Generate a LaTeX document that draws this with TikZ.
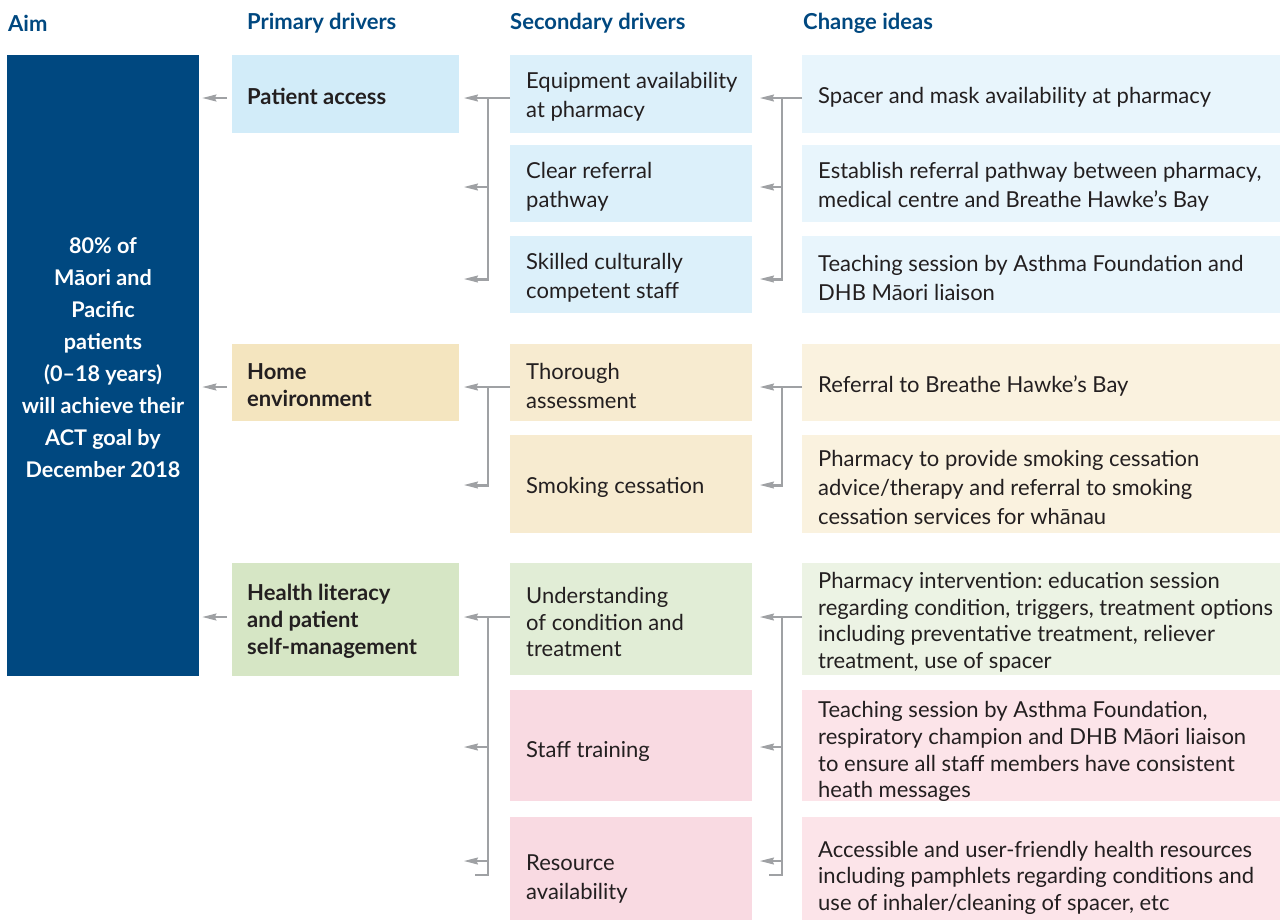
\documentclass[tikz,border=0pt]{standalone}
\usepackage{fontspec}
\setmainfont{Lato}
\usetikzlibrary{arrows.meta}
\frenchspacing

\definecolor{navy}{HTML}{004880}
\definecolor{ink}{HTML}{231F20}
\definecolor{wire}{HTML}{9FA1A4}
\definecolor{blueA}{HTML}{D2ECF9}
\definecolor{blueB}{HTML}{DCF0FA}
\definecolor{blueC}{HTML}{E8F5FC}
\definecolor{creamA}{HTML}{F4E5BF}
\definecolor{creamB}{HTML}{F7EBD0}
\definecolor{creamC}{HTML}{FAF2DF}
\definecolor{greenA}{HTML}{D6E6C5}
\definecolor{greenB}{HTML}{E1EDD6}
\definecolor{greenC}{HTML}{ECF3E4}
\definecolor{pinkB}{HTML}{F9DAE2}
\definecolor{pinkC}{HTML}{FCE4E9}

\tikzset{
  panel/.style={anchor=north west, inner sep=0pt, draw=none},
  head/.style={anchor=west, inner sep=0pt, text=navy, font=\fontsize{22}{26}\selectfont\bfseries},
  bodytext/.style={anchor=west, inner sep=0pt, align=left, text=ink, yshift=-3pt},
  prim/.style={bodytext, yshift=1pt, font=\fontsize{22}{27}\selectfont\bfseries},
  sectwo/.style={bodytext, font=\fontsize{22}{29}\selectfont},
  secthree/.style={bodytext, font=\fontsize{22}{26.6}\selectfont},
  wireline/.style={draw=wire, line width=1.3pt},
  feed/.style={wireline, -{Stealth[length=14pt, width=7pt, inset=1.5pt]}},
}

\begin{document}
\begin{tikzpicture}[x=1pt, y=-1pt]
\useasboundingbox (0,0) rectangle (1282,922);

% column headings
\node[head] (hAim)  at (8,23)   {Aim};
\node[head] (hPrim) at (247,23) {Primary drivers};
\node[head] (hSec)  at (510,23) {Secondary drivers};
\node[head] (hIdea) at (803,23) {Change ideas};

% aim
\node[panel, fill=navy, minimum width=192pt, minimum height=621pt] (aim) at (7,55) {};
\node[inner sep=0pt, align=center, text=white, font=\fontsize{21.6}{32}\selectfont\bfseries] (aimtext) at (103,358)
  {80\% of\\Māori and\\Pacific\\patients\\(0–18 years)\\will achieve their\\ACT goal by\\December 2018};

% primary drivers
\node[panel, fill=blueA,  minimum width=227pt, minimum height=78pt]  (p1) at (232,55)  {};
\node[panel, fill=creamA, minimum width=227pt, minimum height=77pt]  (p2) at (232,344) {};
\node[panel, fill=greenA, minimum width=227pt, minimum height=113pt] (p3) at (232,563) {};
\node[prim] (p1t) at ([xshift=15pt]p1.west) {Patient access};
\node[prim] (p2t) at ([xshift=15pt]p2.west) {Home\\environment};
\node[prim] (p3t) at ([xshift=15pt]p3.west) {Health literacy\\and patient\\self-management};

% secondary drivers
\node[panel, fill=blueB,  minimum width=242pt, minimum height=78pt]  (s1) at (510,55)  {};
\node[panel, fill=blueB,  minimum width=242pt, minimum height=77pt]  (s2) at (510,145) {};
\node[panel, fill=blueB,  minimum width=242pt, minimum height=77pt]  (s3) at (510,236) {};
\node[panel, fill=creamB, minimum width=242pt, minimum height=77pt]  (s4) at (510,344) {};
\node[panel, fill=creamB, minimum width=242pt, minimum height=98pt]  (s5) at (510,435) {};
\node[panel, fill=greenB, minimum width=242pt, minimum height=112pt] (s6) at (510,563) {};
\node[panel, fill=pinkB,  minimum width=242pt, minimum height=111pt] (s7) at (510,690) {};
\node[panel, fill=pinkB,  minimum width=242pt, minimum height=103pt] (s8) at (510,817) {};
\node[sectwo]   (s1t) at ([xshift=16pt]s1.west) {Equipment availability\\at pharmacy};
\node[sectwo]   (s2t) at ([xshift=16pt]s2.west) {Clear referral\\pathway};
\node[sectwo]   (s3t) at ([xshift=16pt]s3.west) {Skilled culturally\\competent staff};
\node[sectwo]   (s4t) at ([xshift=16pt]s4.west) {Thorough\\assessment};
\node[sectwo]   (s5t) at ([xshift=16pt]s5.west) {Smoking cessation};
\node[secthree] (s6t) at ([xshift=16pt]s6.west) {Understanding\\of condition and\\treatment};
\node[sectwo, yshift=-3pt] (s7t) at ([xshift=16pt]s7.west) {Staff training};
\node[sectwo, yshift=-7pt] (s8t) at ([xshift=16pt]s8.west) {Resource\\availability};

% change ideas
\node[panel, fill=blueC,  minimum width=478pt, minimum height=78pt]  (c1) at (802,55)  {};
\node[panel, fill=blueC,  minimum width=478pt, minimum height=77pt]  (c2) at (802,145) {};
\node[panel, fill=blueC,  minimum width=478pt, minimum height=77pt]  (c3) at (802,236) {};
\node[panel, fill=creamC, minimum width=478pt, minimum height=77pt]  (c4) at (802,344) {};
\node[panel, fill=creamC, minimum width=478pt, minimum height=98pt]  (c5) at (802,435) {};
\node[panel, fill=greenC, minimum width=478pt, minimum height=112pt] (c6) at (802,563) {};
\node[panel, fill=pinkC,  minimum width=478pt, minimum height=111pt] (c7) at (802,690) {};
\node[panel, fill=pinkC,  minimum width=478pt, minimum height=103pt] (c8) at (802,817) {};
\node[sectwo]   (c1t) at ([xshift=16pt]c1.west) {Spacer and mask availability at pharmacy};
\node[sectwo]   (c2t) at ([xshift=16pt]c2.west) {Establish referral pathway between pharmacy,\\medical centre and Breathe Hawke’s Bay};
\node[sectwo]   (c3t) at ([xshift=16pt]c3.west) {Teaching session by Asthma Foundation and\\DHB Māori liaison};
\node[sectwo]   (c4t) at ([xshift=16pt]c4.west) {Referral to Breathe Hawke’s Bay};
\node[sectwo]   (c5t) at ([xshift=16pt]c5.west) {Pharmacy to provide smoking cessation\\advice/therapy and referral to smoking\\cessation services for whānau};
\node[secthree] (c6t) at ([xshift=16pt]c6.west) {Pharmacy intervention: education session\\regarding condition, triggers, treatment options\\including preventative treatment, reliever\\treatment, use of spacer};
\node[secthree, yshift=-3pt] (c7t) at ([xshift=16pt]c7.west) {Teaching session by Asthma Foundation,\\respiratory champion and DHB Māori liaison\\to ensure all staff members have consistent\\heath messages};
\node[secthree, yshift=-6pt] (c8t) at ([xshift=16pt]c8.west) {Accessible and user-friendly health resources\\including pamphlets regarding conditions and\\use of inhaler/cleaning of spacer, etc};

% primary drivers feed the aim
\draw[feed] ([xshift=-5pt]p1.west |- 0,98)  -- ([xshift=3pt]aim.east |- 0,98);
\draw[feed] ([xshift=-5pt]p2.west |- 0,387) -- ([xshift=3pt]aim.east |- 0,387);
\draw[feed] ([xshift=-5pt]p3.west |- 0,617) -- ([xshift=3pt]aim.east |- 0,617);

% bracket spines between secondary drivers and primary drivers
\coordinate (L1top) at (488,98);  \coordinate (L1bot) at (488,280);
\coordinate (L2top) at (488,387); \coordinate (L2bot) at (488,486);
\coordinate (L3top) at (488,617); \coordinate (L3bot) at (488,875);
% bracket spines between change ideas and secondary drivers
\coordinate (R1top) at (782,98);  \coordinate (R1bot) at (782,280);
\coordinate (R2top) at (782,387); \coordinate (R2bot) at (782,486);
\coordinate (R3top) at (782,617); \coordinate (R3bot) at (782,875);

\foreach \g/\s/\c in {1/s1/c1, 2/s4/c4, 3/s6/c6} {
  \draw[wireline] (\s.west |- L\g top) -- (L\g top) -- (L\g bot) -- ++(-13,0);
  \draw[wireline] (\c.west |- R\g top) -- (R\g top) -- (R\g bot) -- ++(-13,0);
}

% arrows into the primary-driver column
\foreach \y in {98,187,279,387,485,617,747,861}
  \draw[feed] (488,\y) -- (464,\y);
% arrows into the secondary-driver column
\foreach \y in {98,187,279,387,485,617,747,861}
  \draw[feed] (782,\y) -- (760,\y);

\end{tikzpicture}
\end{document}
